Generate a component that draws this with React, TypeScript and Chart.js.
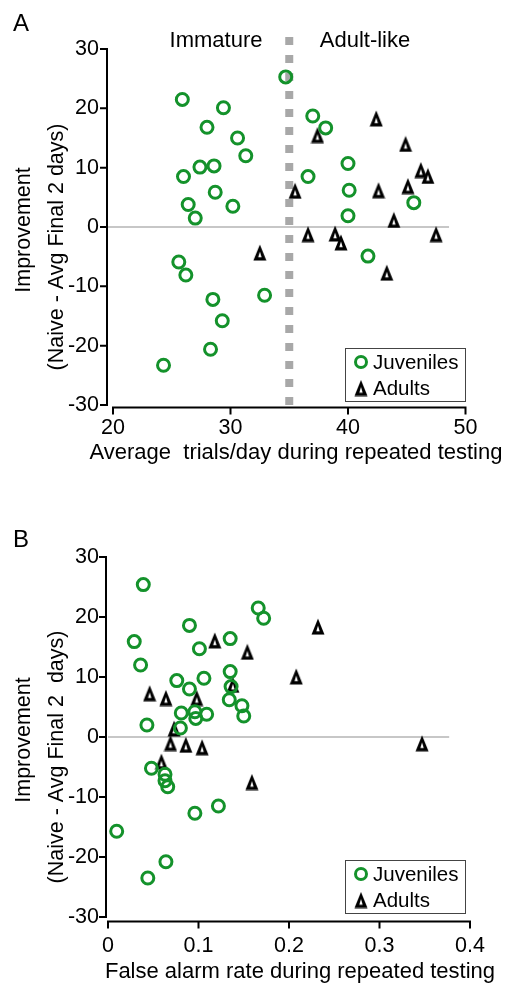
import React, { useEffect, useRef } from 'react';
import { Chart, registerables } from 'chart.js';
Chart.register(...registerables);

// ---------- data ----------
const yTickValues = [-30, -20, -10, 0, 10, 20, 30];
const xTickValuesA = [20, 30, 40, 50];
const xTickValuesB = [0, 0.1, 0.2, 0.3, 0.4];

// Panel A: average trials/day vs improvement
const juvAX = [34.7, 25.9, 29.4, 28.0, 30.6, 31.3, 27.4, 28.6, 26.0, 28.7, 30.2, 26.4, 27.0, 25.6, 26.2, 28.5, 29.3, 32.9, 28.3, 24.3, 37.0, 38.1, 40.0, 36.6, 40.1, 45.6, 40.0, 41.7];
const juvAY = [25.3, 21.5, 20.1, 16.8, 15.0, 12.0, 10.1, 10.3, 8.5, 5.85, 3.5, 3.8, 1.5, -5.9, -8.1, -12.2, -15.8, -11.5, -20.6, -23.3, 18.7, 16.7, 10.7, 8.5, 6.2, 4.1, 1.9, -4.9];
const adultAX = [37.4, 42.4, 44.9, 46.2, 46.8, 35.5, 42.6, 45.1, 43.9, 36.6, 38.9, 39.4, 43.3, 47.5, 32.5];
const adultAY = [15.5, 18.3, 14.0, 9.6, 8.6, 6.1, 6.2, 6.9, 1.2, -1.2, -1.1, -2.6, -7.7, -1.2, -4.3];
const dividerA = [35, -30, 32.8]; // x, yFrom, yTo
const zeroLineA = [19.5, 48.6];

// Panel B: false alarm rate vs improvement
const juvBX = [0.039, 0.166, 0.172, 0.090, 0.029, 0.135, 0.101, 0.036, 0.135, 0.106, 0.076, 0.090, 0.136, 0.134, 0.148, 0.150, 0.081, 0.096, 0.097, 0.109, 0.043, 0.080, 0.048, 0.063, 0.063, 0.066, 0.122, 0.096, 0.0096, 0.064, 0.044];
const juvBY = [25.4, 21.5, 19.8, 18.6, 15.9, 16.4, 14.7, 12.0, 10.9, 9.8, 9.4, 8.0, 8.4, 6.2, 5.2, 3.5, 4.0, 4.2, 3.1, 3.8, 2.0, 1.5, -5.2, -6.2, -7.3, -8.3, -11.5, -12.7, -15.7, -20.8, -23.5];
const adultBX = [0.232, 0.118, 0.154, 0.208, 0.138, 0.046, 0.064, 0.098, 0.073, 0.069, 0.086, 0.104, 0.059, 0.159, 0.347];
const adultBY = [18.4, 16.1, 14.2, 10.1, 8.7, 7.3, 6.5, 6.5, 1.4, -1.0, -1.3, -1.7, -4.1, -7.5, -1.05];
const zeroLineB = [0, 0.377];

const GREEN = '#14922b';
const FONT = '"Liberation Sans", Arial, sans-serif';

function makeTriangle(): HTMLCanvasElement {
  const c = document.createElement('canvas');
  c.width = 14;
  c.height = 17;
  const ctx = c.getContext('2d')!;
  ctx.fillStyle = '#000';
  ctx.beginPath();
  ctx.moveTo(7, 0.5);
  ctx.lineTo(13.5, 16.5);
  ctx.lineTo(0.5, 16.5);
  ctx.closePath();
  ctx.fill();
  ctx.fillStyle = '#fff';
  ctx.beginPath();
  ctx.moveTo(7, 7.5);
  ctx.lineTo(8.7, 13.2);
  ctx.lineTo(5.3, 13.2);
  ctx.closePath();
  ctx.fill();
  return c;
}

interface PanelCfg {
  letter: string;
  letterY: number;
  juvX: number[];
  juvY: number[];
  adX: number[];
  adY: number[];
  xMin: number;
  xMax: number;
  xTicks: number[];
  left: number;
  right: number;
  top: number;
  bottom: number;
  yAxisX: number;
  xAxisY: number;
  yTickPad: number;
  xTickPad: number;
  xTitle: string;
  xTitleX: number;
  xTitleY: number;
  yTitle2: string;
  legendTop: number;
  zero: number[];
  divider?: number[];
  region?: boolean;
}

const W = 516;
const H = 494;

function Panel({ cfg }: { cfg: PanelCfg }) {
  const ref = useRef<HTMLCanvasElement>(null);
  useEffect(() => {
    const tri = makeTriangle();
    const triLegend = makeTriangle();
    const datasets: any[] = [
      {
        label: 'Juveniles',
        data: cfg.juvX.map((x, i) => ({ x, y: cfg.juvY[i] })),
        pointStyle: 'circle',
        pointRadius: 6,
        pointHoverRadius: 6,
        borderWidth: 3,
        pointBorderWidth: 3,
        borderColor: GREEN,
        pointBorderColor: GREEN,
        backgroundColor: 'rgba(0,0,0,0)',
        pointBackgroundColor: 'rgba(0,0,0,0)',
        order: 1,
      },
      {
        label: 'Adults',
        data: cfg.adX.map((x, i) => ({ x, y: cfg.adY[i] })),
        pointStyle: tri,
        pointRadius: 7,
        borderColor: '#000',
        backgroundColor: '#000',
        order: 1,
      },
      {
        label: 'zero',
        data: [
          { x: cfg.zero[0], y: 0 },
          { x: cfg.zero[1], y: 0 },
        ],
        showLine: true,
        borderColor: '#b4b4b4',
        borderWidth: 1.5,
        pointRadius: 0,
        clip: false,
        order: 3,
      },
    ];
    if (cfg.divider) {
      datasets.push({
        label: 'divider',
        data: [
          { x: cfg.divider[0], y: cfg.divider[1] },
          { x: cfg.divider[0], y: cfg.divider[2] },
        ],
        showLine: true,
        borderColor: '#a8a8a8',
        borderWidth: 8,
        borderDash: [8, 10],
        borderCapStyle: 'butt',
        pointRadius: 0,
        clip: false,
        order: 2,
      });
    }

    const decor = {
      id: 'decor',
      afterDraw(chart: any) {
        const ctx: CanvasRenderingContext2D = chart.ctx;
        const xs = chart.scales.x;
        const ys = chart.scales.y;
        ctx.save();
        ctx.strokeStyle = '#000';
        ctx.lineWidth = 2;
        // y axis
        const yTop = ys.getPixelForValue(30);
        const yBot = ys.getPixelForValue(-30);
        ctx.beginPath();
        ctx.moveTo(cfg.yAxisX, yTop - 1);
        ctx.lineTo(cfg.yAxisX, yBot + 1);
        for (const v of yTickValues) {
          const y = ys.getPixelForValue(v);
          ctx.moveTo(cfg.yAxisX - 7, y);
          ctx.lineTo(cfg.yAxisX, y);
        }
        ctx.stroke();
        // x axis
        const xL = xs.getPixelForValue(cfg.xTicks[0]);
        const xR = xs.getPixelForValue(cfg.xTicks[cfg.xTicks.length - 1]);
        ctx.beginPath();
        ctx.moveTo(xL - 1, cfg.xAxisY);
        ctx.lineTo(xR + 1, cfg.xAxisY);
        for (const v of cfg.xTicks) {
          const x = xs.getPixelForValue(v);
          ctx.moveTo(x, cfg.xAxisY);
          ctx.lineTo(x, cfg.xAxisY + 7);
        }
        ctx.stroke();

        ctx.fillStyle = '#000';
        // panel letter
        ctx.font = '24px ' + FONT;
        ctx.textAlign = 'left';
        ctx.textBaseline = 'alphabetic';
        ctx.fillText(cfg.letter, 13, cfg.letterY);

        // x title
        ctx.font = '22px ' + FONT;
        ctx.textAlign = 'center';
        ctx.fillText(cfg.xTitle, cfg.xTitleX, cfg.xTitleY);

        // region labels
        if (cfg.region) {
          ctx.fillText('Immature', 216, 47);
          ctx.fillText('Adult-like', 365, 47);
        }

        // y titles
        const cy = (chart.chartArea.top + chart.chartArea.bottom) / 2;
        ctx.font = '21.5px ' + FONT;
        const rot = (text: string, x: number, y: number) => {
          ctx.save();
          ctx.translate(x, y);
          ctx.rotate(-Math.PI / 2);
          ctx.fillText(text, 0, 0);
          ctx.restore();
        };
        rot('Improvement', 30, cy + 3);
        rot(cfg.yTitle2, 63, cy + 20);

        // legend
        const lt = cfg.legendTop;
        ctx.strokeStyle = '#444';
        ctx.lineWidth = 1;
        ctx.strokeRect(345.5, lt + 0.5, 120, 53);
        ctx.strokeStyle = GREEN;
        ctx.lineWidth = 3;
        ctx.beginPath();
        ctx.arc(361, lt + 14, 5.5, 0, Math.PI * 2);
        ctx.stroke();
        ctx.drawImage(triLegend, 361 - 7, lt + 40 - 8.5);
        ctx.fillStyle = '#000';
        ctx.font = '20.5px ' + FONT;
        ctx.textAlign = 'left';
        ctx.textBaseline = 'middle';
        ctx.fillText('Juveniles', 373, lt + 15);
        ctx.fillText('Adults', 373, lt + 41);
        ctx.restore();
      },
    };

    const chart = new Chart(ref.current!, {
      type: 'scatter',
      data: { datasets },
      options: {
        animation: false,
        responsive: false,
        events: [],
        layout: {
          padding: { left: 0, right: W - cfg.right, top: cfg.top, bottom: H - cfg.bottom - 60 },
        },
        plugins: { legend: { display: false }, tooltip: { enabled: false } },
        scales: {
          x: {
            type: 'linear',
            min: cfg.xMin,
            max: cfg.xMax,
            grid: { display: false, drawTicks: false, tickLength: 0 },
            border: { display: false },
            afterBuildTicks: (s: any) => {
              s.ticks = cfg.xTicks.map((v) => ({ value: v }));
            },
            afterFit: (s: any) => {
              s.height = 60;
              s.paddingLeft = 0;
              s.paddingRight = 0;
              s.paddingTop = 0;
              s.paddingBottom = 0;
            },
            ticks: {
              autoSkip: false,
              maxRotation: 0,
              padding: cfg.xTickPad,
              color: '#000',
              font: { family: FONT, size: 21.5 },
              callback: (v: any) => String(v),
            },
          },
          y: {
            type: 'linear',
            min: -30,
            max: 30,
            grid: { display: false, drawTicks: false, tickLength: 0 },
            border: { display: false },
            afterBuildTicks: (s: any) => {
              s.ticks = yTickValues.map((v) => ({ value: v }));
            },
            afterFit: (s: any) => {
              s.width = cfg.left;
              s.paddingLeft = 0;
              s.paddingRight = 0;
              s.paddingTop = 0;
              s.paddingBottom = 0;
            },
            ticks: {
              padding: cfg.yTickPad,
              color: '#000',
              font: { family: FONT, size: 21.5 },
              callback: (v: any) => String(v),
            },
          },
        },
      },
      plugins: [decor],
    } as any);
    return () => chart.destroy();
  }, [cfg]);
  return <canvas ref={ref} width={W} height={H} style={{ display: 'block', width: W, height: H }} />;
}

const cfgA: PanelCfg = {
  letter: 'A',
  letterY: 31,
  juvX: juvAX,
  juvY: juvAY,
  adX: adultAX,
  adY: adultAY,
  xMin: 20,
  xMax: 50,
  xTicks: xTickValuesA,
  left: 113,
  right: 465.5,
  top: 49,
  bottom: 405,
  yAxisX: 107,
  xAxisY: 407.5,
  yTickPad: 14,
  xTickPad: 10.5,
  xTitle: 'Average  trials/day during repeated testing',
  xTitleX: 296,
  xTitleY: 459,
  yTitle2: '(Naive - Avg Final 2 days)',
  legendTop: 348,
  zero: zeroLineA,
  divider: dividerA,
  region: true,
};

const cfgB: PanelCfg = {
  letter: 'B',
  letterY: 53,
  juvX: juvBX,
  juvY: juvBY,
  adX: adultBX,
  adY: adultBY,
  xMin: 0,
  xMax: 0.4,
  xTicks: xTickValuesB,
  left: 108,
  right: 470,
  top: 63,
  bottom: 423,
  yAxisX: 106,
  xAxisY: 427.5,
  yTickPad: 9,
  xTickPad: 16,
  xTitle: 'False alarm rate during repeated testing',
  xTitleX: 300,
  xTitleY: 484,
  yTitle2: '(Naive - Avg Final 2  days)',
  legendTop: 366,
  zero: zeroLineB,
};

export default function App() {
  return (
    <div style={{ position: 'absolute', left: 0, top: 0, width: W, height: 2 * H, background: '#fff' }}>
      <Panel cfg={cfgA} />
      <Panel cfg={cfgB} />
    </div>
  );
}
